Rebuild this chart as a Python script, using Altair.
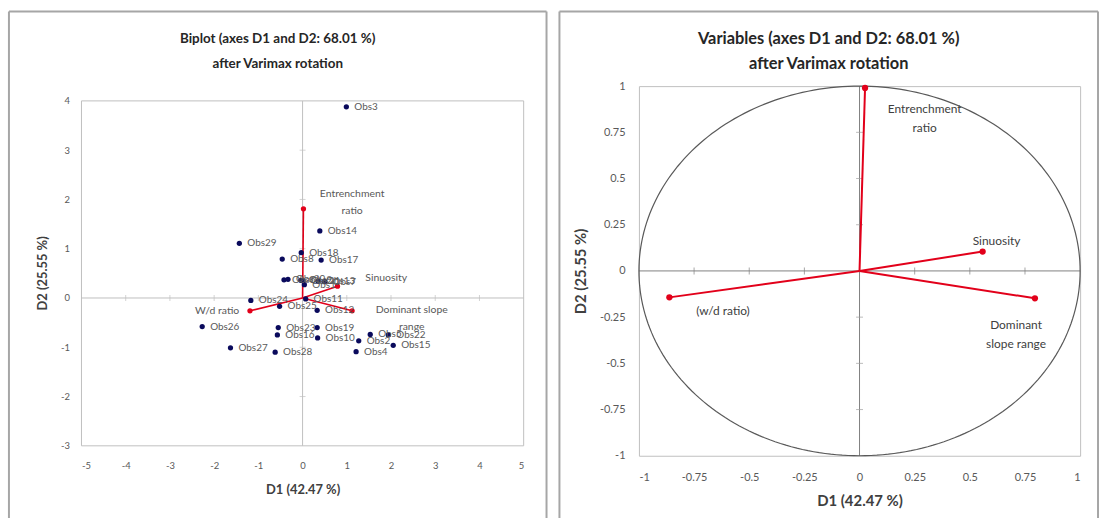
import altair as alt
import numpy as np
import pandas as pd

FONT = "Lato"

# ---------------- data: observations on D1/D2 (biplot, Varimax) ----------------
obs_names = ["Obs1", "Obs2", "Obs3", "Obs4", "Obs5", "Obs6", "Obs7", "Obs8", "Obs9", "Obs10",
             "Obs11", "Obs12", "Obs13", "Obs14", "Obs15", "Obs16", "Obs17", "Obs18", "Obs19",
             "Obs20", "Obs21", "Obs22", "Obs23", "Obs24", "Obs25", "Obs26", "Obs27", "Obs28", "Obs29"]
obs_d1 = [0.04, 1.27, 0.99, 1.21, 1.53, -0.42, 0.50, -0.46, -0.04, 0.34,
          0.07, 0.33, 0.35, 0.39, 2.05, -0.57, 0.42, -0.03, 0.33,
          -0.33, 0.01, 1.94, -0.55, -1.17, -0.52, -2.27, -1.63, -0.62, -1.43]
obs_d2 = [0.27, -0.87, 3.88, -1.09, -0.74, 0.37, 0.33, 0.79, 0.36, -0.81,
          -0.02, -0.25, 0.34, 1.36, -0.96, -0.75, 0.77, 0.92, -0.60,
          0.38, 0.35, -0.75, -0.60, -0.05, -0.17, -0.58, -1.01, -1.10, 1.11]

# variable vectors in the biplot
bip_vars = ["Entrenchment\nratio", "W/d ratio", "Dominant slope\nrange", "Sinuosity"]
bip_d1 = [0.02, -1.19, 1.12, 0.79]
bip_d2 = [1.81, -0.26, -0.26, 0.24]

# variable loadings (correlation circle)
load_vars = ["Entrenchment\nratio", "(w/d ratio)", "Dominant\nslope range", "Sinuosity"]
load_d1 = [0.025, -0.862, 0.795, 0.558]
load_d2 = [0.990, -0.143, -0.148, 0.105]

# axis tick values
left_x_ticks = [-5, -4, -3, -2, -1, 0, 1, 2, 3, 4, 5]
left_y_ticks = [-3, -2, -1, 0, 1, 2, 3, 4]
right_ticks = [-1, -0.75, -0.5, -0.25, 0, 0.25, 0.5, 0.75, 1]

LEFT_TITLE = ["Biplot (axes D1 and D2: 68.01 %)", "after Varimax rotation"]
RIGHT_TITLE = ["Variables (axes D1 and D2: 68.01 %)", "after Varimax rotation"]
X_TITLE = "D1 (42.47 %)"
Y_TITLE = "D2 (25.55 %)"

BOX = "#c0c0c0"
FRAME = "#a6a6a6"
RED = "#e2001a"
NAVY = "#0a0a5c"
LABEL = "#595959"
one = alt.Data(values=[{"a": 1}])


def make_axis(values, lsize, tsize, lpad, tpad, **kw):
    return alt.Axis(values=values, domain=False, ticks=False, grid=False,
                    labelFontSize=lsize, labelColor=LABEL, labelPadding=lpad, labelFont=FONT,
                    labelExpr="'' + datum.value", titleFontSize=tsize, titleFontWeight="bold",
                    titleColor="#404040", titlePadding=tpad, titleFont=FONT, **kw)


def frame_rules(x1, x2, y1, y2):
    style = dict(color=FRAME, strokeWidth=2)
    left = alt.Chart(one).mark_rule(**style).encode(x=alt.value(x1), y=alt.value(y1), y2=alt.value(y2))
    right = alt.Chart(one).mark_rule(**style).encode(x=alt.value(x2), y=alt.value(y1), y2=alt.value(y2))
    top = alt.Chart(one).mark_rule(**style).encode(x=alt.value(x1), x2=alt.value(x2), y=alt.value(y1))
    return [left, right, top]


# ======================= LEFT: biplot =======================
LW, LH = 445, 362
lx_dom = [-5, 5]
ly_dom = [-3, 4.30]
LX = alt.X("d1:Q", scale=alt.Scale(domain=lx_dom, nice=False, zero=False),
           axis=make_axis(left_x_ticks, 9.5, 13, 15, 13), title=X_TITLE)
LY = alt.Y("d2:Q", scale=alt.Scale(domain=ly_dom, nice=False, zero=False),
           axis=make_axis(left_y_ticks, 9.5, 13, 12, 11, titleY=188), title=Y_TITLE)

obs_df = pd.DataFrame({"name": obs_names, "d1": obs_d1, "d2": obs_d2})
bip_df = pd.DataFrame({"name": bip_vars, "d1": bip_d1, "d2": bip_d2, "z1": 0.0, "z2": 0.0})

box_left = alt.Chart(pd.DataFrame({"d1": [-5], "d2": [-3], "e1": [5], "e2": [4]})).mark_rect(
    fillOpacity=0, stroke=BOX, strokeWidth=1).encode(x=LX, y=LY, x2="e1:Q", y2="e2:Q")
zero_left = alt.Chart(pd.DataFrame({"d1": [-5, 0], "d2": [0, -3], "e1": [5, 0], "e2": [0, 4]})).mark_rule(
    color=BOX, strokeWidth=1).encode(x=LX, y=LY, x2="e1:Q", y2="e2:Q")
xt_left = alt.Chart(pd.DataFrame({"d1": [v for v in left_x_ticks if v not in (-5, 0, 5)], "d2": 0})).mark_tick(
    orient="vertical", size=6, thickness=1, color=BOX).encode(x=LX, y=LY)
yt_left = alt.Chart(pd.DataFrame({"d1": 0, "d2": [v for v in left_y_ticks if v not in (-3, 0, 4)]})).mark_tick(
    orient="horizontal", size=6, thickness=1, color=BOX).encode(x=LX, y=LY)
vec_left = alt.Chart(bip_df).mark_rule(color=RED, strokeWidth=1.6).encode(
    x=LX, y=LY, x2="z1:Q", y2="z2:Q")
vend_left = alt.Chart(bip_df).mark_circle(color=RED, size=28, opacity=1).encode(x=LX, y=LY)
pts_left = alt.Chart(obs_df).mark_circle(color=NAVY, size=28, opacity=1).encode(x=LX, y=LY)
lab_left = alt.Chart(obs_df).mark_text(align="left", baseline="middle", dx=8, fontSize=10,
                                       color=LABEL, font=FONT).encode(x=LX, y=LY, text="name:N")


def var_label(df, i, dx, dy, size, color, lh):
    d = df.iloc[[i]][["name", "d1", "d2"]]
    return d, dict(align="center", baseline="middle", dx=dx, dy=dy, fontSize=size, color=color,
                   font=FONT, lineBreak="\n", lineHeight=lh)


# offsets of the first text line from the vector end point
left_var_offsets = [(49, -15), (-33, 0), (60, -1), (49, -8)]
left_var_labels = []
for i, (dx, dy) in enumerate(left_var_offsets):
    d, kw = var_label(bip_df, i, dx, dy, 10.5, LABEL, 17)
    left_var_labels.append(alt.Chart(d).mark_text(**kw).encode(x=LX, y=LY, text="name:N"))

left = alt.layer(
    box_left, zero_left, xt_left, yt_left, vec_left, vend_left, pts_left, lab_left,
    *left_var_labels, *frame_rules(-73, 468, -75, 435)
).properties(
    width=LW, height=LH,
    view=alt.ViewBackground(stroke="transparent"),
    title=alt.Title(LEFT_TITLE, fontSize=13.5, font=FONT, fontWeight="bold", color="#262626",
                    anchor="middle", frame="bounds", lineHeight=25, offset=-60),
)

# ======================= RIGHT: correlation circle =======================
RW, RH = 444, 372
RX = alt.X("d1:Q", scale=alt.Scale(domain=[-1, 1], nice=False, zero=False),
           axis=make_axis(right_ticks, 11, 15, 16, 11), title=X_TITLE)
RY = alt.Y("d2:Q", scale=alt.Scale(domain=[-1, 1], nice=False, zero=False),
           axis=make_axis(right_ticks, 11, 15, 14, 11), title=Y_TITLE)

load_df = pd.DataFrame({"name": load_vars, "d1": load_d1, "d2": load_d2, "z1": 0.0, "z2": 0.0})
theta = np.linspace(0, 2 * np.pi, 241)
circle_df = pd.DataFrame({"d1": np.cos(theta), "d2": np.sin(theta), "i": np.arange(theta.size)})

circle = alt.Chart(circle_df).mark_line(color="#595959", strokeWidth=1.2).encode(
    x=RX, y=RY, order="i:Q")
zero_right = alt.Chart(pd.DataFrame({"d1": [-1, 0], "d2": [0, -1], "e1": [1, 0], "e2": [0, 1]})).mark_rule(
    color="#808080", strokeWidth=1).encode(x=RX, y=RY, x2="e1:Q", y2="e2:Q")
xt_right = alt.Chart(pd.DataFrame({"d1": [v for v in right_ticks if v not in (-1, 0, 1)], "d2": 0.0})).mark_tick(
    orient="vertical", size=7, thickness=1, color="#808080").encode(x=RX, y=RY)
yt_right = alt.Chart(pd.DataFrame({"d1": 0.0, "d2": [v for v in right_ticks if v not in (-1, 0, 1)]})).mark_tick(
    orient="horizontal", size=7, thickness=1, color="#a0a0a0").encode(x=RX, y=RY)
vec_right = alt.Chart(load_df).mark_rule(color=RED, strokeWidth=2).encode(
    x=RX, y=RY, x2="z1:Q", y2="z2:Q")
vend_right = alt.Chart(load_df).mark_circle(color=RED, size=40, opacity=1).encode(x=RX, y=RY)

right_var_offsets = [(60, 21), (54, 14), (-19, 27), (14, -11)]
right_var_labels = []
for i, (dx, dy) in enumerate(right_var_offsets):
    d, kw = var_label(load_df, i, dx, dy, 12, "#404040", 19)
    right_var_labels.append(alt.Chart(d).mark_text(**kw).encode(x=RX, y=RY, text="name:N"))

right = alt.layer(
    zero_right, xt_right, yt_right, circle, vec_right, vend_right,
    *right_var_labels, *frame_rules(-80, 462, -75, 435)
).properties(
    width=RW, height=RH,
    view=alt.ViewBackground(stroke=BOX),
    title=alt.Title(RIGHT_TITLE, fontSize=16.5, font=FONT, fontWeight="bold", color="#262626",
                    anchor="middle", frame="bounds", lineHeight=25, offset=-62),
)

chart = alt.hconcat(left, right, spacing=9).properties(
    padding={"left": 7, "top": 8, "right": 0, "bottom": 0},
    background="white",
).configure_view(stroke=BOX)

chart.save("out.html", embed_options={"renderer": "svg", "actions": False})
